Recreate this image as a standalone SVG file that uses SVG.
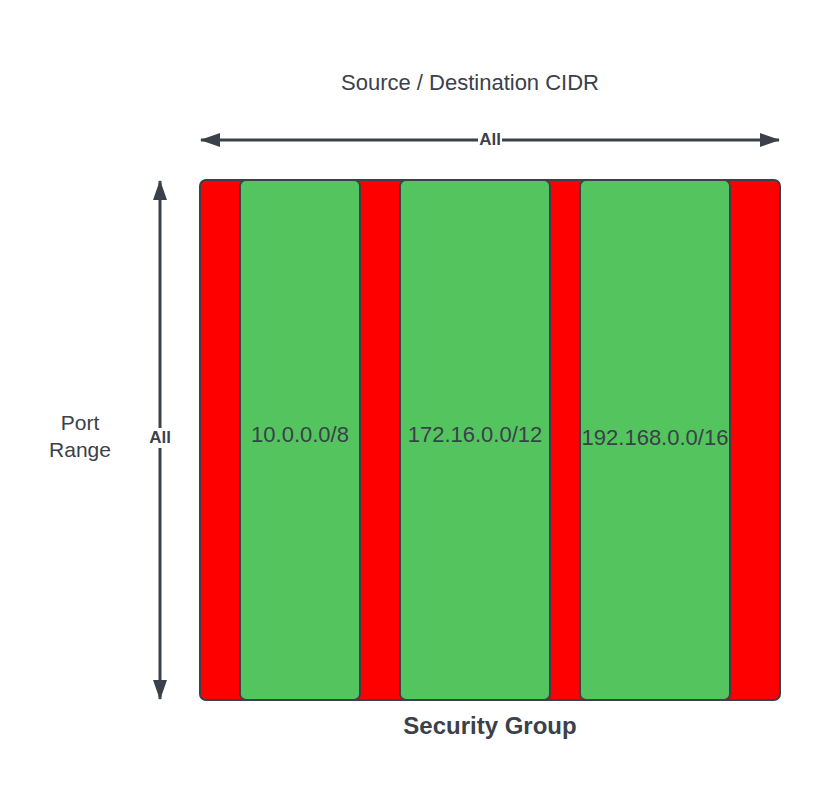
<svg xmlns="http://www.w3.org/2000/svg" width="820" height="800" viewBox="0 0 820 800">
<defs>
<style>
text{font-family:"Liberation Sans",Arial,sans-serif;fill:#3a414a}
.lbl{font-size:22px;text-anchor:middle}
.b{font-weight:bold;text-anchor:middle}
.box{stroke:#3a414a;stroke-width:2}
.ln{stroke:#3a414a;stroke-width:3;fill:none}
</style>
<marker id="ah" viewBox="0 0 20 14" refX="19" refY="7" markerWidth="20" markerHeight="14" markerUnits="userSpaceOnUse" orient="auto-start-reverse">
<path d="M0,0 L20,7 L0,14 Z" fill="#3a414a"/>
</marker>
</defs>
<rect width="820" height="800" fill="#fff"/>
<text x="470" y="90" class="lbl">Source / Destination CIDR</text>
<g id="connectors">
<line x1="201" y1="140" x2="779" y2="140" class="ln" marker-start="url(#ah)" marker-end="url(#ah)"/>
<rect x="478" y="130" width="24" height="20" fill="#fff"/>
<text x="490" y="145" class="b" style="font-size:17px">All</text>
<line x1="160" y1="181" x2="160" y2="699" class="ln" marker-start="url(#ah)" marker-end="url(#ah)"/>
<rect x="148" y="428" width="24" height="20" fill="#fff"/>
<text x="160" y="443" class="b" style="font-size:17px">All</text>
</g>
<g id="security-group">
<rect x="200" y="180" width="580" height="520" rx="6" fill="#ff0000" class="box"/>
<text x="490" y="734" class="b" style="font-size:24px">Security Group</text>
</g>
<g id="cidr-10">
<rect x="240" y="180" width="120" height="520" rx="6" fill="#54c45e" class="box"/>
<text x="300" y="442" class="lbl">10.0.0.0/8</text>
</g>
<g id="cidr-172">
<rect x="400" y="180" width="150" height="520" rx="6" fill="#54c45e" class="box"/>
<text x="475" y="442" class="lbl">172.16.0.0/12</text>
</g>
<g id="cidr-192">
<rect x="580" y="180" width="150" height="520" rx="6" fill="#54c45e" class="box"/>
<text x="655" y="445" class="lbl">192.168.0.0/16</text>
</g>
<g id="port-range">
<text x="80" y="430" class="lbl" style="font-size:21px">Port</text>
<text x="80" y="457" class="lbl" style="font-size:21px">Range</text>
</g>
</svg>
